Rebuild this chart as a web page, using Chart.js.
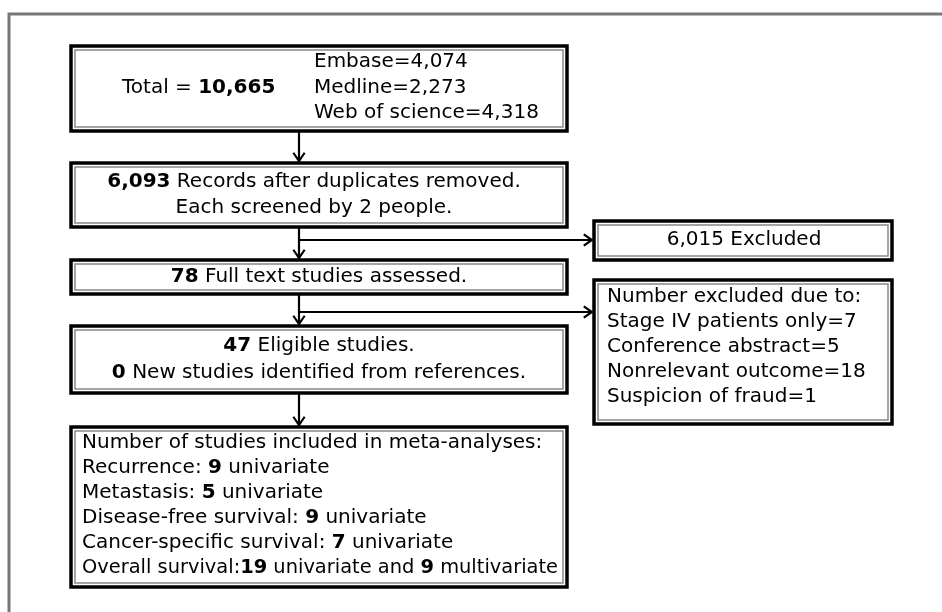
<!DOCTYPE html>
<html>
<head>
<meta charset="utf-8">
<script src="https://cdn.jsdelivr.net/npm/chart.js@4.4.0/dist/chart.umd.min.js"></script>
<style>
  html, body { margin: 0; padding: 0; background: #fff; }
  #wrap { width: 942px; height: 612px; }
</style>
</head>
<body>
<div id="wrap"><canvas id="flow" width="942" height="612"></canvas></div>
<script>
// counts
const totalRecords = 10665;
const sources = ["Embase", "Medline", "Web of science"];
const sourceCounts = [4074, 2273, 4318];
const afterDuplicates = 6093;
const screeners = 2;
const excludedScreening = 6015;
const fullTextAssessed = 78;
const exclusionReasons = ["Stage IV patients only", "Conference abstract", "Nonrelevant outcome", "Suspicion of fraud"];
const exclusionCounts = [7, 5, 18, 1];
const eligibleStudies = 47;
const fromReferences = 0;
const outcomes = ["Recurrence", "Metastasis", "Disease-free survival", "Cancer-specific survival", "Overall survival"];
const univariate = [9, 5, 9, 7, 19];
const multivariate = [0, 0, 0, 0, 9];

const FONT = '"DejaVu Sans", sans-serif';
const FSIZE = 20;

function fmt(n) { return n.toLocaleString("en-US"); }
function t(s) { return { text: s, bold: false }; }
function b(s) { return { text: s, bold: true }; }

// box contents built from the arrays above
let box1Left = [[t("Total = "), b(fmt(totalRecords))]];
let box1Right = sources.map((s, i) => [t(s + "=" + fmt(sourceCounts[i]))]);
let box2 = [[b(fmt(afterDuplicates)), t(" Records after duplicates removed.")],
            [t("Each screened by " + screeners + " people.")]];
let box3 = [[b(String(fullTextAssessed)), t(" Full text studies assessed.")]];
let excl1 = [[t(fmt(excludedScreening) + " Excluded")]];
let excl2 = [[t("Number excluded due to:")]].concat(
  exclusionReasons.map((r, i) => [t(r + "=" + exclusionCounts[i])]));
let box4 = [[b(String(eligibleStudies)), t(" Eligible studies.")],
            [b(String(fromReferences)), t(" New studies identified from references.")]];
let box5 = [[t("Number of studies included in meta-analyses:")]];
outcomes.forEach((o, i) => {
  let line = [t(o + ":" + (multivariate[i] ? "" : " ")), b(String(univariate[i])), t(" univariate")];
  if (multivariate[i]) line.push(t(" and "), b(String(multivariate[i])), t(" multivariate"));
  box5.push(line);
});

// layout in diagram units (0..942 x 0..612)
const layout = [
  { rect: [71, 46, 567, 131], groups: [
      { lines: box1Left, x: 122, y: 88, step: 0, align: "left", maxW: 180 },
      { lines: box1Right, x: 314, y: 62, step: 25.5, align: "left", maxW: 240 }] },
  { rect: [71, 163, 567, 227], groups: [{ lines: box2, x: 314, y: 182, step: 26, align: "center", maxW: 470 }] },
  { rect: [71, 260, 567, 294], groups: [{ lines: box3, x: 319, y: 277, step: 0, align: "center", maxW: 470 }] },
  { rect: [71, 326, 567, 393], groups: [{ lines: box4, x: 319, y: 346, step: 27, align: "center", maxW: 470 }] },
  { rect: [71, 427, 567, 587], groups: [{ lines: box5, x: 82, y: 443, step: 25, align: "left", maxW: 476 }] },
  { rect: [594, 221, 892, 260], groups: [{ lines: excl1, x: 744, y: 240, step: 0, align: "center", maxW: 280 }] },
  { rect: [594, 280, 892, 424], groups: [{ lines: excl2, x: 607, y: 297, step: 25, align: "left", maxW: 276 }] }
];
const arrows = [
  [299, 131, 299, 161], [299, 227, 299, 258], [299, 240, 592, 240],
  [299, 294, 299, 324], [299, 312, 592, 312], [299, 393, 299, 425]
];

function drawLine(ctx, segs, x, y, align, maxW) {
  let w = 0;
  segs.forEach(s => {
    ctx.font = (s.bold ? "bold " : "") + FSIZE + "px " + FONT;
    s.w = ctx.measureText(s.text).width;
    w += s.w;
  });
  const k = w > maxW ? maxW / w : 1;
  ctx.save();
  ctx.translate(align === "center" ? x - w * k / 2 : x, y);
  ctx.scale(k, 1);
  let cx = 0;
  segs.forEach(s => {
    ctx.font = (s.bold ? "bold " : "") + FSIZE + "px " + FONT;
    ctx.fillText(s.text, cx, 0);
    cx += s.w;
  });
  ctx.restore();
}

const flowPlugin = {
  id: "flow",
  afterDraw(chart) {
    const ctx = chart.ctx;
    const sx = chart.scales.x, sy = chart.scales.y;
    const px = v => sx.getPixelForValue(v), py = v => sy.getPixelForValue(v);
    ctx.save();

    // outer frame
    ctx.strokeStyle = "#777";
    ctx.lineWidth = 3;
    ctx.beginPath();
    ctx.moveTo(px(9), py(612)); ctx.lineTo(px(9), py(14)); ctx.lineTo(px(942), py(14));
    ctx.stroke();

    // boxes
    layout.forEach(n => {
      const [x0, y0, x1, y1] = n.rect;
      ctx.fillStyle = "#fff";
      ctx.fillRect(px(x0), py(y0), px(x1) - px(x0), py(y1) - py(y0));
      ctx.strokeStyle = "#000";
      ctx.lineWidth = 3.5;
      ctx.strokeRect(px(x0), py(y0), px(x1) - px(x0), py(y1) - py(y0));
      ctx.strokeStyle = "#888";
      ctx.lineWidth = 1.5;
      ctx.strokeRect(px(x0) + 4, py(y0) + 4, px(x1) - px(x0) - 8, py(y1) - py(y0) - 8);
      ctx.fillStyle = "#000";
      ctx.textBaseline = "middle";
      n.groups.forEach(g => {
        g.lines.forEach((segs, i) => drawLine(ctx, segs, px(g.x), py(g.y + i * g.step), g.align, g.maxW));
      });
    });

    // arrows
    ctx.strokeStyle = "#000";
    ctx.lineWidth = 2.2;
    arrows.forEach(a => {
      const x0 = px(a[0]), y0 = py(a[1]), x1 = px(a[2]), y1 = py(a[3]);
      ctx.beginPath(); ctx.moveTo(x0, y0); ctx.lineTo(x1, y1); ctx.stroke();
      const ang = Math.atan2(y1 - y0, x1 - x0), h = 10;
      ctx.beginPath();
      ctx.moveTo(x1 - h * Math.cos(ang - 0.6), y1 - h * Math.sin(ang - 0.6));
      ctx.lineTo(x1, y1);
      ctx.lineTo(x1 - h * Math.cos(ang + 0.6), y1 - h * Math.sin(ang + 0.6));
      ctx.stroke();
    });
    ctx.restore();
  }
};

new Chart(document.getElementById("flow"), {
  type: "scatter",
  data: { datasets: [{ data: [], pointRadius: 0 }] },
  options: {
    responsive: false,
    animation: false,
    layout: { padding: 0 },
    plugins: { legend: { display: false }, tooltip: { enabled: false } },
    scales: {
      x: { type: "linear", min: 0, max: 942, display: false },
      y: { type: "linear", min: 0, max: 612, reverse: true, display: false }
    }
  },
  plugins: [flowPlugin]
});
</script>
</body>
</html>
